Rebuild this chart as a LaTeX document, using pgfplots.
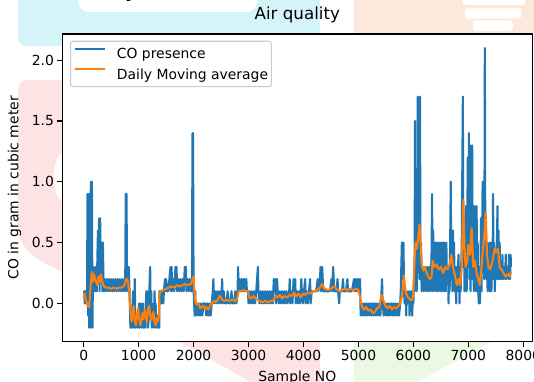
\documentclass[border=0pt]{standalone}
\usepackage{fontspec}
\setmainfont{DejaVu Sans}
\usepackage{pgfplots}
\pgfplotsset{compat=1.18}
\pgfdeclarelayer{background}
\pgfsetlayers{background,main}

\definecolor{mplblue}{HTML}{1F77B4}
\definecolor{mplorange}{HTML}{FF7F0E}
\definecolor{bgcyan}{HTML}{D5F4FA}
\definecolor{bgpeach}{HTML}{FDE9DB}
\definecolor{bgpink}{HTML}{FDE3E3}
\definecolor{bggreen}{HTML}{EBF8E3}

\newcommand{\tickfont}{\fontsize{13.9}{16}\selectfont}

\begin{document}
\begin{tikzpicture}
\begin{axis}[
  scale only axis, width=470pt, height=307.7pt,
  xmin=-389, xmax=8164, ymin=-0.315, ymax=2.215,
  axis background/.style={fill=white},
  axis line style={line width=1.1pt, black},
  tick align=outside, tick pos=left,
  major tick length=4.9pt,
  every tick/.style={line width=1.1pt, black},
  xtick={0,1000,...,8000},
  ytick={0,0.5,1,1.5,2},
  /pgf/number format/assume math mode=true,
  /pgf/number format/1000 sep={},
  tick label style={font=\tickfont},
  yticklabel style={/pgf/number format/.cd, fixed, fixed zerofill, precision=1},
  title={Air quality},
  title style={at={(axis description cs:0.5,1.026)}, anchor=base, inner sep=0pt,
    font=\fontsize{16.7}{20}\selectfont},
  xlabel={Sample NO},
  ylabel={CO in gram in cubic meter},
  every axis x label/.style={at={(axis description cs:0.5,-0.1277)}, anchor=base,
    inner sep=0pt, font=\tickfont},
  every axis y label/.style={at={(axis description cs:-0.1017,0.5)}, rotate=90,
    anchor=center, inner sep=0pt, font=\tickfont},
  legend cell align=left,
  legend image code/.code={\draw[#1] (0pt,5pt) -- (30pt,5pt);},
  legend style={at={(0.0164,0.9782)}, anchor=north west,
    draw=black!20, line width=1.1pt, fill=white, fill opacity=0.8, text opacity=1,
    rounded corners=2.5pt, inner xsep=3.3pt, inner ysep=4pt,
    row sep=4.1pt, column sep=11pt, font=\tickfont,
    nodes={inner sep=0pt, text height=13.6pt, text depth=3pt}},
]
\coordinate (sw) at (rel axis cs:0,0);

% CO readings
\addplot[mplblue, line width=2.08pt, line join=round] coordinates {
(0,0.1)(10,0.1)(20,0.0)(30,0.1)(40,0.0)(50,0.1)(60,0.0)(70,0.9)(80,-0.1)(90,0.9)
(100,-0.2)(110,0.9)(120,-0.2)(130,1.0)(140,-0.1)(150,1.0)(160,-0.2)(170,0.3)(180,0.1)(190,0.2)
(200,0.1)(210,0.3)(220,0.1)(230,0.2)(240,0.1)(250,0.4)(260,0.6)(270,0.2)(280,0.7)(290,0.1)
(300,0.7)(310,0.3)(320,0.2)(330,0.5)(340,0.1)(350,0.5)(360,0.2)(370,0.1)(380,0.2)(400,0.1)
(420,0.2)(440,0.1)(460,0.2)(480,0.1)(500,0.2)(520,0.1)(540,0.2)(560,0.1)(580,0.2)(600,0.1)
(620,0.2)(640,0.1)(660,0.2)(680,0.1)(700,0.2)(720,0.1)(740,0.2)(755,0.1)(765,0.9)(780,0.9)
(790,0.1)(800,0.3)(810,0.1)(820,0.3)(835,0.1)(850,-0.2)
(860,-0.1)(870,-0.2)(880,-0.1)(890,0.0)(900,0.1)(910,-0.2)(920,-0.1)(930,0.2)(940,-0.2)(960,-0.1)
(980,-0.2)(1000,-0.1)(1010,0.0)(1020,-0.2)(1040,0.0)(1050,-0.1)(1060,-0.2)(1080,0.0)(1090,-0.2)(1100,-0.1)
(1120,-0.2)(1140,0.1)(1150,-0.1)(1160,0.1)(1170,-0.2)(1190,-0.1)(1200,0.2)(1210,0.3)(1220,-0.1)(1230,0.1)
(1240,-0.2)(1260,-0.1)(1270,0.0)(1280,-0.2)(1290,0.1)(1300,-0.1)(1310,0.0)(1320,-0.2)(1340,-0.1)(1360,-0.2)
(1375,-0.2)(1380,0.1)
(1390,0.1)(1400,0.0)(1410,0.1)(1420,0.0)(1440,0.1)(1450,0.0)(1460,0.1)(1480,0.2)(1490,0.1)(1500,0.2)
(1520,0.1)(1540,0.1)(1560,0.2)(1580,0.3)(1590,0.1)(1600,0.3)(1610,0.1)(1630,0.2)(1650,0.1)(1670,0.3)
(1680,0.2)(1690,0.3)(1700,0.1)(1720,0.2)(1740,0.1)(1760,0.2)(1780,0.1)(1800,0.2)(1820,0.1)(1840,0.3)
(1850,0.2)(1860,0.3)(1870,0.1)(1890,0.2)(1910,0.1)(1930,0.2)(1950,0.1)(1970,0.1)(1980,1.4)(1990,1.4)
(2000,0.1)(2010,0.0)(2020,-0.1)(2030,0.1)(2040,-0.1)(2060,0.0)(2080,-0.1)(2100,0.0)(2120,-0.1)(2140,0.0)
(2160,-0.1)(2180,0.0)(2200,0.0)(2210,0.0)(2230,-0.1)(2250,0.0)(2270,-0.1)(2290,0.0)(2310,-0.1)(2330,0.0)
(2350,0.1)(2360,0.2)(2370,0.0)(2390,0.1)(2410,0.0)(2430,0.1)(2450,0.0)(2470,0.1)(2490,0.0)(2510,0.1)
(2520,0.2)(2530,0.0)(2550,0.1)(2570,0.0)(2600,0.0)(2620,0.1)(2640,0.0)(2670,0.0)(2690,0.1)(2710,0.0)
(2740,0.0)(2760,0.1)(2780,0.0)(2800,0.1)(2810,0.3)(2820,0.1)(2840,0.2)(2850,0.1)(2870,0.2)(2880,0.1)
(2900,0.2)(2910,0.1)(2930,0.2)(2940,0.1)(2960,0.2)(2970,0.1)(2990,0.1)(3000,0.0)(3020,0.1)(3040,0.0)
(3060,0.1)(3080,0.0)(3100,0.1)(3120,0.0)(3140,0.1)(3170,0.3)(3180,0.1)(3200,0.0)(3220,0.1)(3240,0.0)
(3260,0.1)(3280,0.0)(3300,0.1)(3320,0.0)(3340,0.1)(3360,0.0)(3380,0.1)(3400,0.0)(3420,0.1)(3440,0.0)
(3460,0.2)(3470,0.1)(3490,0.2)(3500,0.0)(3520,0.2)(3530,0.1)(3550,0.0)(3570,0.1)(3590,0.0)(3610,0.1)
(3630,0.0)(3650,0.1)(3670,0.0)(3690,0.1)(3710,0.0)(3740,0.1)(3750,0.2)(3760,0.0)(3780,0.1)(3800,0.0)
(3820,0.2)(3830,0.1)(3850,0.2)(3860,0.0)(3880,0.1)(3900,0.0)(3920,0.1)(3940,0.0)(3960,0.2)(3970,0.1)
(3990,0.0)(4010,0.1)(4030,0.2)(4040,0.0)(4060,0.1)(4080,0.0)(4100,0.1)(4120,0.2)(4130,0.0)(4150,0.1)
(4170,0.1)(4190,0.1)(4230,0.1)(4260,0.2)(4270,0.1)(4300,0.2)(4310,0.3)(4320,0.1)(4340,0.3)(4350,0.2)
(4360,0.1)(4400,0.1)(4440,0.1)(4480,0.1)(4510,0.2)(4520,0.1)(4540,0.3)(4550,0.2)(4560,0.1)(4600,0.1)
(4620,0.2)(4630,0.1)(4650,0.0)(4660,0.1)(4700,0.1)(4720,0.2)(4730,0.1)(4770,0.1)(4800,0.2)(4810,0.1)
(4850,0.1)(4880,0.1)(4920,0.2)(4930,0.1)(4950,0.2)(4960,0.1)(4980,0.2)(4990,0.1)(5010,0.2)(5020,0.1)
(5030,0.2)(5040,-0.1)
(5060,0.0)(5080,-0.1)(5100,0.0)(5120,-0.1)(5140,0.0)(5160,-0.1)(5180,0.0)(5200,-0.1)(5220,0.0)(5240,-0.1)
(5260,0.0)(5280,-0.1)(5300,0.0)(5320,-0.1)(5340,0.0)(5360,-0.1)(5380,0.0)(5400,-0.1)(5420,0.1)(5430,0.2)
(5440,0.0)(5460,-0.1)(5480,0.0)(5500,-0.1)(5520,0.0)(5540,-0.1)(5560,0.0)(5580,-0.1)(5600,0.0)(5620,-0.1)
(5640,0.0)(5660,-0.1)(5680,0.0)(5700,-0.1)(5720,0.0)(5740,-0.1)(5760,0.0)
(5770,0.1)(5790,0.5)(5800,0.5)(5810,0.2)(5820,0.5)(5830,0.1)(5840,0.0)(5860,0.1)(5870,-0.1)(5880,0.1)
(5900,0.0)(5920,0.1)(5930,-0.1)(5940,0.0)(5960,0.1)(5980,-0.1)(5990,0.1)(6000,0.0)(6010,0.2)(6020,0.1)
(6030,1.5)(6040,0.2)(6050,0.6)(6060,0.1)(6070,0.4)(6080,1.7)(6090,0.3)(6100,0.6)(6110,0.2)(6120,1.7)
(6130,0.3)(6140,0.5)(6150,0.1)(6170,0.3)(6190,0.1)(6210,0.3)(6230,0.1)(6250,0.3)(6270,0.1)(6290,0.3)
(6310,0.1)(6330,0.4)(6340,0.9)(6350,0.1)(6360,0.6)(6370,0.2)(6380,0.5)(6390,0.1)(6400,0.5)(6410,0.2)
(6420,0.5)(6430,0.1)(6440,0.3)(6450,0.5)(6460,0.1)(6470,0.5)(6480,0.2)(6490,0.5)(6500,0.1)(6510,0.4)
(6520,0.5)(6530,0.1)(6540,0.5)(6550,0.2)(6560,0.5)(6570,0.1)(6580,0.4)(6590,0.1)(6600,0.5)(6610,0.2)
(6630,0.3)(6640,0.0)(6650,0.3)(6660,0.1)(6680,1.0)(6690,0.2)(6700,0.5)(6710,0.1)(6720,0.6)(6730,0.2)
(6740,0.5)(6750,0.1)(6760,0.3)(6780,0.0)(6790,0.3)(6800,0.1)(6820,0.4)(6840,0.0)(6850,0.3)(6860,0.1)
(6880,0.5)(6900,1.7)(6910,0.3)(6920,0.7)(6930,0.1)(6940,0.6)(6950,0.2)(6960,0.8)(6970,0.1)(6990,1.2)
(7000,0.3)(7010,1.4)(7020,0.2)(7030,1.3)(7040,0.1)(7050,0.6)(7060,0.2)(7070,1.3)(7080,0.3)(7090,0.5)
(7100,0.1)(7110,0.8)(7120,0.2)(7130,0.6)(7140,0.1)(7150,0.8)(7160,0.3)(7170,0.5)(7180,0.1)(7190,0.0)
(7200,0.3)(7210,0.0)(7220,0.2)(7230,0.7)(7240,0.1)(7260,1.0)(7270,0.3)(7280,0.5)(7290,0.2)(7300,2.1)
(7310,0.3)(7320,0.6)(7330,0.2)(7340,0.5)(7350,0.1)(7360,0.4)(7370,0.2)(7380,0.5)(7390,0.1)(7400,0.3)
(7410,0.5)(7420,0.1)(7430,0.4)(7440,0.2)(7450,0.9)(7460,0.2)(7470,0.5)(7480,0.1)(7500,0.4)(7510,0.2)
(7530,0.8)(7540,0.2)(7550,0.6)(7560,0.2)(7570,0.5)(7580,0.2)(7590,0.3)(7610,0.2)(7620,0.4)(7630,0.2)
(7650,0.3)(7670,0.2)(7680,0.4)(7690,0.2)(7710,0.3)(7730,0.2)(7740,0.4)(7750,0.3)(7760,0.2)(7770,0.4)
(7775,0.3)
};
\addlegendentry{CO presence}

% daily moving average
\addplot[mplorange, line width=2.08pt, line join=round] coordinates {
(0,0.05)(20,0.08)(40,0.03)(60,0.0)(80,-0.02)(100,-0.03)(120,0.1)(140,0.22)(150,0.26)(170,0.18)
(190,0.24)(210,0.2)(230,0.17)(250,0.15)(270,0.22)(290,0.18)(310,0.24)(330,0.2)(350,0.16)(370,0.14)
(400,0.13)(450,0.13)(500,0.12)(550,0.13)(600,0.12)(650,0.13)(700,0.13)(740,0.15)(770,0.2)(790,0.2)
(810,0.17)(830,0.08)(850,-0.05)(870,-0.15)(890,-0.1)(910,-0.02)(930,-0.15)(950,-0.18)(970,-0.1)(990,-0.04)
(1010,-0.12)(1030,-0.18)(1050,-0.15)(1070,-0.08)(1090,-0.13)(1110,-0.05)(1130,-0.1)(1150,-0.15)(1170,-0.04)(1190,-0.02)
(1210,-0.1)(1230,-0.14)(1250,-0.1)(1270,-0.07)(1290,-0.16)(1310,-0.18)(1330,-0.12)(1350,-0.15)(1370,-0.1)(1380,0.08)
(1400,0.1)(1450,0.11)(1500,0.12)(1550,0.13)(1600,0.14)(1650,0.13)(1700,0.15)(1750,0.14)(1800,0.15)(1850,0.16)
(1900,0.15)(1950,0.16)(1980,0.2)(2000,0.22)(2010,0.12)(2030,0.02)(2060,-0.01)(2090,0.0)(2120,-0.04)(2150,-0.03)
(2180,-0.02)(2210,-0.05)(2240,-0.03)(2270,-0.05)(2300,-0.02)(2330,0.0)(2370,0.02)(2400,0.01)(2440,0.03)(2480,0.06)
(2520,0.03)(2560,0.02)(2600,0.03)(2650,0.02)(2700,0.03)(2760,0.02)(2800,0.05)(2820,0.1)(2860,0.1)(2900,0.11)
(2950,0.1)(2990,0.1)(3010,0.05)(3050,0.04)(3090,0.06)(3130,0.04)(3170,0.03)(3200,0.02)(3250,0.01)(3300,0.02)
(3350,0.01)(3400,0.02)(3450,0.02)(3490,0.06)(3530,0.05)(3570,0.07)(3610,0.04)(3650,0.06)(3700,0.05)(3750,0.07)
(3790,0.06)(3830,0.09)(3870,0.06)(3910,0.08)(3950,0.05)(3990,0.08)(4030,0.07)(4080,0.09)(4130,0.08)(4170,0.1)
(4200,0.1)(4250,0.11)(4300,0.13)(4340,0.16)(4380,0.12)(4450,0.11)(4500,0.12)(4550,0.14)(4600,0.12)(4650,0.1)
(4700,0.11)(4750,0.12)(4800,0.11)(4850,0.12)(4900,0.11)(4950,0.12)(5000,0.11)(5030,0.05)(5060,-0.02)(5100,-0.05)
(5140,-0.03)(5180,-0.06)(5220,-0.05)(5260,-0.08)(5300,-0.07)(5340,-0.04)(5380,-0.03)(5420,0.07)(5450,0.03)(5490,-0.02)
(5530,-0.04)(5570,-0.02)(5610,-0.05)(5650,-0.03)(5690,-0.04)(5730,-0.02)(5760,0.0)(5790,0.05)(5830,0.23)(5850,0.12)
(5870,0.08)(5900,0.05)(5940,0.03)(5980,0.03)(6000,0.1)(6020,0.35)(6040,0.5)(6060,0.45)(6090,0.55)(6110,0.65)
(6130,0.5)(6150,0.32)(6180,0.27)(6210,0.3)(6240,0.25)(6270,0.22)(6300,0.2)(6330,0.22)(6350,0.35)(6380,0.3)
(6420,0.32)(6460,0.28)(6500,0.3)(6540,0.25)(6580,0.3)(6620,0.28)(6660,0.32)(6690,0.4)(6720,0.3)(6760,0.22)
(6790,0.15)(6820,0.2)(6850,0.15)(6880,0.3)(6910,0.85)(6930,0.45)(6950,0.3)(6980,0.35)(7000,0.48)(7030,0.4)
(7060,0.62)(7090,0.3)(7120,0.35)(7150,0.25)(7180,0.2)(7210,0.15)(7240,0.3)(7260,0.42)(7290,0.55)(7315,0.75)
(7340,0.4)(7365,0.3)(7400,0.28)(7440,0.35)(7480,0.45)(7510,0.42)(7540,0.45)(7570,0.3)(7600,0.28)(7640,0.25)
(7680,0.22)(7720,0.24)(7750,0.22)(7775,0.26)
};
\addlegendentry{Daily Moving average}
\end{axis}

% pastel backdrop, laid out from the lower-left corner of the page
\begin{scope}[shift={(sw)}, xshift=-62.3pt, yshift=-39.3pt, x=1pt, y=1pt]
\begin{pgfonlayer}{background}
\fill[bgcyan, rounded corners=8pt] (18,335) rectangle (320,400);
\fill[white, rounded corners=11pt] (78,369) rectangle (257,400);
\node[anchor=base, inner sep=0pt, font=\fontsize{24}{24}\selectfont] at (132,384) {y};
\fill[bgpeach] (354,340) rectangle (540,390);
\fill[white, rounded corners=2pt] (463,376) rectangle (525,390);
\fill[white, rounded corners=2pt] (465,362.3) rectangle (521,372.5);
\fill[white, rounded corners=3pt] (473,350.3) rectangle (513,360.6);
\fill[bgpink] (70,301) -- (28,301) to[out=180,in=90] (18,291) -- (18,154)
  .. controls (18,135) and (35,118) .. (70,107) -- cycle;
\fill[white] (63,204) ellipse [x radius=9, y radius=24];
\fill[bgpink] (169,45) -- (320,45) -- (320,-5) -- (258,-5) -- cycle;
\fill[bggreen] (354,45) -- (502.6,45) -- (409.7,-5) -- (354,-5) -- cycle;
\end{pgfonlayer}
\pgfresetboundingbox
\useasboundingbox (0,0) rectangle (534,381);
\end{scope}
\end{tikzpicture}
\end{document}
